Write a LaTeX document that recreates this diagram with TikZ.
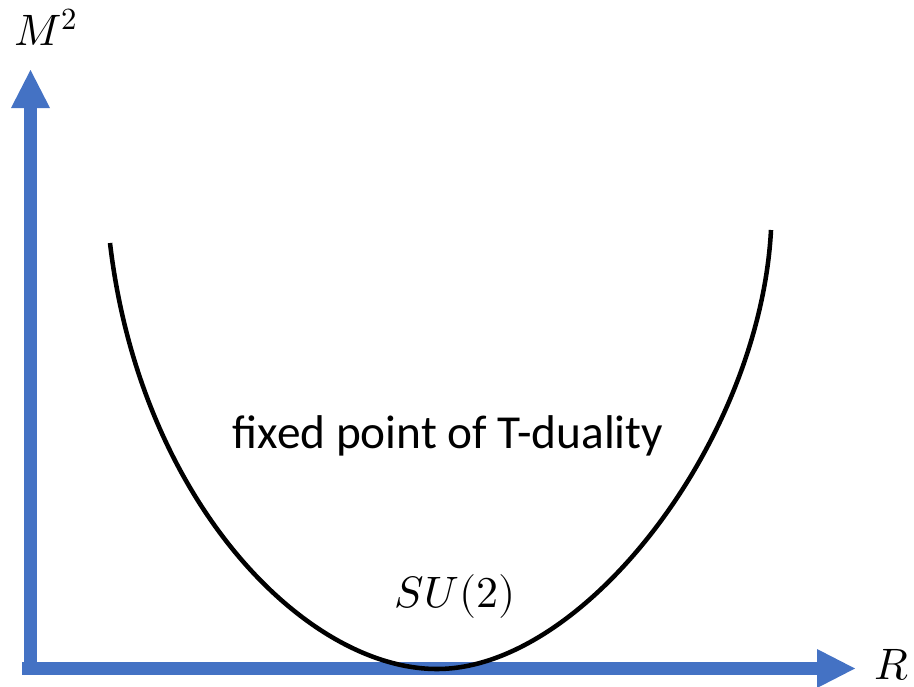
\documentclass[tikz,border=0pt]{standalone}
\usepackage{fontspec}
\usepackage{unicode-math}
\setmainfont{Carlito}
\setmathfont{Latin Modern Math}
\usetikzlibrary{arrows.meta, positioning}

\definecolor{axisblue}{RGB}{68,114,196}

\begin{document}
\begin{tikzpicture}[
    x=0.75pt, y=-0.75pt,
    axis/.style={draw=axisblue, line width=9.75pt, -{Triangle[length=28.5pt, width=29.25pt, line width=0pt]}},
    curve/.style={draw=black, line width=3.4pt},
    mathlabel/.style={anchor=base, inner sep=0pt, font=\fontsize{33}{40}\selectfont},
    textlabel/.style={anchor=base, inner sep=0pt, font=\fontsize{35.5}{42}\selectfont}
]
    \useasboundingbox (0,0) rectangle (914,686);

    \coordinate (yfoot) at (30.5,675);
    \coordinate (ytip) at (30.5,70);
    \coordinate (xfoot) at (22,668.5);
    \coordinate (xtip) at (855,668.5);

    \coordinate (left) at (110,243);
    \coordinate (bottom) at (437,669);
    \coordinate (right) at (771,230);

    % axes
    \draw[axis] (yfoot) -- (ytip);
    \draw[axis] (xfoot) -- (xtip);

    % mass curve
    \draw[curve] (left) .. controls (140,500) and (305,669) .. (bottom)
                 .. controls (585,669) and (760,440) .. (right);

    \node[mathlabel] (mlabel) at (46,45) {$M^2$};
    \node[mathlabel] (rlabel) at (892,679) {$R$};
    \node[mathlabel] (sulabel) at (455,607) {$SU(2)$};
    \node[textlabel] (fixed) at (448,448) {fixed point of T-duality};
\end{tikzpicture}
\end{document}
